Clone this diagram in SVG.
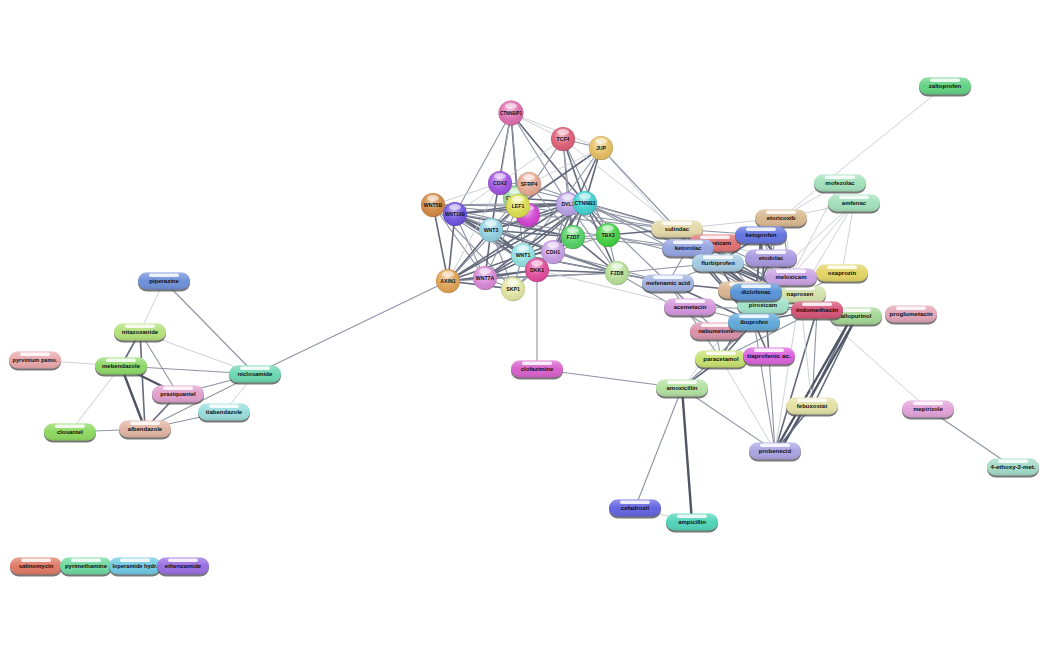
<svg xmlns="http://www.w3.org/2000/svg" xmlns:xlink="http://www.w3.org/1999/xlink" width="1046" height="652" viewBox="0 0 1046 652">
<style>
text{font-family:"Liberation Sans",Arial,sans-serif;font-size:6px;font-weight:bold;fill:#111;text-anchor:middle}
.g text{font-size:5.2px}
line{stroke-linecap:round}
.a{stroke:#c0c4ce;stroke-width:.8}
.b{stroke:#8e94a4;stroke-width:1.1}
.c{stroke:#646a7c;stroke-width:1.6}
.d{stroke:#505566;stroke-width:2.4}
</style>
<defs>
<linearGradient id="pg" x1="0" y1="0" x2="0" y2="1">
<stop offset="0" stop-color="#fff" stop-opacity="0.3"/>
<stop offset="0.5" stop-color="#fff" stop-opacity="0"/>
<stop offset="1" stop-color="#000" stop-opacity="0.1"/>
</linearGradient>
<radialGradient id="rg" cx="0.45" cy="0.35" r="0.7">
<stop offset="0" stop-color="#fff" stop-opacity="0.6"/>
<stop offset="0.45" stop-color="#fff" stop-opacity="0.1"/>
<stop offset="0.85" stop-color="#000" stop-opacity="0.05"/>
<stop offset="1" stop-color="#000" stop-opacity="0.3"/>
</radialGradient>
<rect id="psh" x="-26" y="-6.5" width="52" height="17" rx="8.5" fill="#555" opacity="0.8"/>
<rect id="pgl" x="-26" y="-8.5" width="52" height="17" rx="8.5" fill="url(#pg)"/>
<rect id="phl" x="-15" y="-7.6" width="30" height="3.6" rx="1.8" fill="#fff" opacity="0.85"/>
<circle id="sgl" r="12" fill="url(#rg)" stroke="#000" stroke-opacity="0.15" stroke-width=".5"/>
<ellipse id="shl" cx="0" cy="-7" rx="6" ry="3" fill="#fff" opacity="0.55"/>
</defs>
<rect width="1046" height="652" fill="#fff"/>
<g id="edges">
<line class="a" x1="164" y1="281" x2="140" y2="332"/>
<line class="b" x1="164" y1="281" x2="255" y2="374"/>
<line class="c" x1="140" y1="332" x2="121" y2="366"/>
<line class="c" x1="140" y1="332" x2="145" y2="429"/>
<line class="b" x1="140" y1="332" x2="178" y2="394"/>
<line class="a" x1="140" y1="332" x2="255" y2="374"/>
<line class="a" x1="35" y1="360" x2="121" y2="366"/>
<line class="b" x1="121" y1="366" x2="255" y2="374"/>
<line class="d" x1="121" y1="366" x2="178" y2="394"/>
<line class="d" x1="121" y1="366" x2="145" y2="429"/>
<line class="a" x1="121" y1="366" x2="70" y2="432"/>
<line class="b" x1="178" y1="394" x2="255" y2="374"/>
<line class="c" x1="178" y1="394" x2="145" y2="429"/>
<line class="b" x1="145" y1="429" x2="255" y2="374"/>
<line class="b" x1="145" y1="429" x2="224" y2="412"/>
<line class="a" x1="224" y1="412" x2="255" y2="374"/>
<line class="b" x1="70" y1="432" x2="145" y2="429"/>
<line class="b" x1="255" y1="374" x2="448" y2="281"/>
<line class="a" x1="511" y1="113" x2="563" y2="139"/>
<line class="a" x1="511" y1="113" x2="601" y2="148"/>
<line class="c" x1="511" y1="113" x2="585" y2="203"/>
<line class="c" x1="511" y1="113" x2="518" y2="206"/>
<line class="c" x1="511" y1="113" x2="491" y2="230"/>
<line class="b" x1="511" y1="113" x2="568" y2="204"/>
<line class="b" x1="511" y1="113" x2="455" y2="214"/>
<line class="a" x1="511" y1="113" x2="500" y2="183"/>
<line class="b" x1="511" y1="113" x2="523" y2="255"/>
<line class="b" x1="563" y1="139" x2="601" y2="148"/>
<line class="c" x1="563" y1="139" x2="585" y2="203"/>
<line class="b" x1="563" y1="139" x2="518" y2="206"/>
<line class="a" x1="563" y1="139" x2="455" y2="214"/>
<line class="b" x1="563" y1="139" x2="568" y2="204"/>
<line class="b" x1="563" y1="139" x2="573" y2="237"/>
<line class="b" x1="563" y1="139" x2="608" y2="235"/>
<line class="c" x1="601" y1="148" x2="585" y2="203"/>
<line class="c" x1="601" y1="148" x2="553" y2="252"/>
<line class="c" x1="601" y1="148" x2="518" y2="206"/>
<line class="b" x1="601" y1="148" x2="523" y2="255"/>
<line class="a" x1="601" y1="148" x2="529" y2="184"/>
<line class="c" x1="433" y1="205" x2="455" y2="214"/>
<line class="c" x1="433" y1="205" x2="491" y2="230"/>
<line class="b" x1="433" y1="205" x2="518" y2="206"/>
<line class="b" x1="433" y1="205" x2="585" y2="203"/>
<line class="c" x1="433" y1="205" x2="448" y2="281"/>
<line class="b" x1="433" y1="205" x2="485" y2="278"/>
<line class="b" x1="433" y1="205" x2="537" y2="270"/>
<line class="b" x1="433" y1="205" x2="573" y2="237"/>
<line class="a" x1="433" y1="205" x2="500" y2="183"/>
<line class="b" x1="433" y1="205" x2="523" y2="255"/>
<line class="b" x1="433" y1="205" x2="513" y2="289"/>
<line class="c" x1="455" y1="214" x2="491" y2="230"/>
<line class="c" x1="455" y1="214" x2="585" y2="203"/>
<line class="c" x1="455" y1="214" x2="518" y2="206"/>
<line class="c" x1="455" y1="214" x2="448" y2="281"/>
<line class="b" x1="455" y1="214" x2="485" y2="278"/>
<line class="c" x1="455" y1="214" x2="537" y2="270"/>
<line class="c" x1="455" y1="214" x2="573" y2="237"/>
<line class="b" x1="455" y1="214" x2="617" y2="273"/>
<line class="c" x1="455" y1="214" x2="523" y2="255"/>
<line class="b" x1="455" y1="214" x2="553" y2="252"/>
<line class="c" x1="491" y1="230" x2="585" y2="203"/>
<line class="c" x1="491" y1="230" x2="518" y2="206"/>
<line class="c" x1="491" y1="230" x2="448" y2="281"/>
<line class="c" x1="491" y1="230" x2="485" y2="278"/>
<line class="c" x1="491" y1="230" x2="537" y2="270"/>
<line class="c" x1="491" y1="230" x2="573" y2="237"/>
<line class="c" x1="491" y1="230" x2="617" y2="273"/>
<line class="c" x1="491" y1="230" x2="523" y2="255"/>
<line class="c" x1="491" y1="230" x2="568" y2="204"/>
<line class="b" x1="491" y1="230" x2="513" y2="289"/>
<line class="b" x1="491" y1="230" x2="529" y2="184"/>
<line class="c" x1="448" y1="281" x2="585" y2="203"/>
<line class="c" x1="448" y1="281" x2="485" y2="278"/>
<line class="c" x1="448" y1="281" x2="513" y2="289"/>
<line class="c" x1="448" y1="281" x2="537" y2="270"/>
<line class="b" x1="448" y1="281" x2="617" y2="273"/>
<line class="c" x1="448" y1="281" x2="523" y2="255"/>
<line class="b" x1="448" y1="281" x2="518" y2="206"/>
<line class="c" x1="448" y1="281" x2="568" y2="204"/>
<line class="a" x1="448" y1="281" x2="500" y2="183"/>
<line class="c" x1="485" y1="278" x2="523" y2="255"/>
<line class="c" x1="485" y1="278" x2="537" y2="270"/>
<line class="c" x1="485" y1="278" x2="573" y2="237"/>
<line class="b" x1="485" y1="278" x2="617" y2="273"/>
<line class="c" x1="485" y1="278" x2="585" y2="203"/>
<line class="b" x1="485" y1="278" x2="513" y2="289"/>
<line class="b" x1="485" y1="278" x2="518" y2="206"/>
<line class="c" x1="523" y1="255" x2="537" y2="270"/>
<line class="c" x1="523" y1="255" x2="573" y2="237"/>
<line class="c" x1="523" y1="255" x2="617" y2="273"/>
<line class="c" x1="523" y1="255" x2="585" y2="203"/>
<line class="c" x1="523" y1="255" x2="553" y2="252"/>
<line class="b" x1="523" y1="255" x2="513" y2="289"/>
<line class="c" x1="537" y1="270" x2="617" y2="273"/>
<line class="b" x1="537" y1="270" x2="553" y2="252"/>
<line class="c" x1="537" y1="270" x2="585" y2="203"/>
<line class="c" x1="537" y1="270" x2="573" y2="237"/>
<line class="c" x1="553" y1="252" x2="585" y2="203"/>
<line class="b" x1="553" y1="252" x2="617" y2="273"/>
<line class="b" x1="553" y1="252" x2="568" y2="204"/>
<line class="b" x1="553" y1="252" x2="573" y2="237"/>
<line class="b" x1="553" y1="252" x2="608" y2="235"/>
<line class="c" x1="573" y1="237" x2="585" y2="203"/>
<line class="c" x1="573" y1="237" x2="568" y2="204"/>
<line class="c" x1="573" y1="237" x2="617" y2="273"/>
<line class="b" x1="573" y1="237" x2="608" y2="235"/>
<line class="c" x1="608" y1="235" x2="585" y2="203"/>
<line class="b" x1="608" y1="235" x2="617" y2="273"/>
<line class="b" x1="608" y1="235" x2="568" y2="204"/>
<line class="c" x1="568" y1="204" x2="585" y2="203"/>
<line class="c" x1="568" y1="204" x2="518" y2="206"/>
<line class="b" x1="568" y1="204" x2="617" y2="273"/>
<line class="c" x1="585" y1="203" x2="518" y2="206"/>
<line class="c" x1="585" y1="203" x2="617" y2="273"/>
<line class="b" x1="585" y1="203" x2="529" y2="184"/>
<line class="b" x1="585" y1="203" x2="500" y2="183"/>
<line class="c" x1="585" y1="203" x2="515" y2="198"/>
<line class="b" x1="518" y1="206" x2="500" y2="183"/>
<line class="b" x1="518" y1="206" x2="529" y2="184"/>
<line class="b" x1="515" y1="198" x2="529" y2="184"/>
<line class="b" x1="500" y1="183" x2="529" y2="184"/>
<line class="b" x1="529" y1="184" x2="573" y2="237"/>
<line class="b" x1="529" y1="184" x2="523" y2="255"/>
<line class="b" x1="513" y1="289" x2="537" y2="270"/>
<line class="b" x1="513" y1="289" x2="553" y2="252"/>
<line class="b" x1="537" y1="270" x2="537" y2="369"/>
<line class="c" x1="585" y1="203" x2="677" y2="229"/>
<line class="b" x1="585" y1="203" x2="688" y2="248"/>
<line class="b" x1="585" y1="203" x2="718" y2="263"/>
<line class="b" x1="585" y1="203" x2="668" y2="283"/>
<line class="a" x1="585" y1="203" x2="771" y2="258"/>
<line class="b" x1="585" y1="203" x2="756" y2="292"/>
<line class="c" x1="608" y1="235" x2="677" y2="229"/>
<line class="b" x1="608" y1="235" x2="718" y2="263"/>
<line class="c" x1="617" y1="273" x2="668" y2="283"/>
<line class="b" x1="617" y1="273" x2="718" y2="263"/>
<line class="b" x1="617" y1="273" x2="716" y2="331"/>
<line class="b" x1="568" y1="204" x2="677" y2="229"/>
<line class="b" x1="573" y1="237" x2="688" y2="248"/>
<line class="b" x1="553" y1="252" x2="668" y2="283"/>
<line class="b" x1="433" y1="205" x2="677" y2="229"/>
<line class="b" x1="455" y1="214" x2="688" y2="248"/>
<line class="b" x1="518" y1="206" x2="677" y2="229"/>
<line class="b" x1="601" y1="148" x2="677" y2="229"/>
<line class="a" x1="601" y1="148" x2="688" y2="248"/>
<line class="a" x1="563" y1="139" x2="677" y2="229"/>
<line class="b" x1="523" y1="255" x2="668" y2="283"/>
<line class="a" x1="537" y1="270" x2="690" y2="307"/>
<line class="a" x1="945" y1="86" x2="781" y2="218"/>
<line class="a" x1="840" y1="183" x2="781" y2="218"/>
<line class="a" x1="840" y1="183" x2="791" y2="277"/>
<line class="a" x1="854" y1="203" x2="781" y2="218"/>
<line class="a" x1="854" y1="203" x2="791" y2="277"/>
<line class="a" x1="854" y1="203" x2="800" y2="294"/>
<line class="a" x1="854" y1="203" x2="756" y2="292"/>
<line class="a" x1="854" y1="203" x2="842" y2="273"/>
<line class="a" x1="781" y1="218" x2="677" y2="229"/>
<line class="b" x1="781" y1="218" x2="761" y2="235"/>
<line class="b" x1="781" y1="218" x2="771" y2="258"/>
<line class="b" x1="781" y1="218" x2="791" y2="277"/>
<line class="b" x1="781" y1="218" x2="756" y2="292"/>
<line class="a" x1="781" y1="218" x2="800" y2="294"/>
<line class="c" x1="677" y1="229" x2="688" y2="248"/>
<line class="b" x1="677" y1="229" x2="715" y2="243"/>
<line class="c" x1="677" y1="229" x2="718" y2="263"/>
<line class="c" x1="677" y1="229" x2="817" y2="310"/>
<line class="c" x1="677" y1="229" x2="756" y2="292"/>
<line class="c" x1="677" y1="229" x2="754" y2="322"/>
<line class="b" x1="677" y1="229" x2="800" y2="294"/>
<line class="b" x1="677" y1="229" x2="761" y2="235"/>
<line class="c" x1="688" y1="248" x2="718" y2="263"/>
<line class="c" x1="688" y1="248" x2="761" y2="235"/>
<line class="c" x1="688" y1="248" x2="756" y2="292"/>
<line class="c" x1="688" y1="248" x2="754" y2="322"/>
<line class="c" x1="688" y1="248" x2="800" y2="294"/>
<line class="b" x1="688" y1="248" x2="817" y2="310"/>
<line class="b" x1="688" y1="248" x2="668" y2="283"/>
<line class="b" x1="715" y1="243" x2="791" y2="277"/>
<line class="b" x1="715" y1="243" x2="763" y2="305"/>
<line class="b" x1="715" y1="243" x2="761" y2="235"/>
<line class="c" x1="761" y1="235" x2="718" y2="263"/>
<line class="c" x1="761" y1="235" x2="754" y2="322"/>
<line class="c" x1="761" y1="235" x2="800" y2="294"/>
<line class="c" x1="761" y1="235" x2="756" y2="292"/>
<line class="b" x1="761" y1="235" x2="771" y2="258"/>
<line class="c" x1="761" y1="235" x2="817" y2="310"/>
<line class="c" x1="761" y1="235" x2="769" y2="356"/>
<line class="b" x1="771" y1="258" x2="791" y2="277"/>
<line class="c" x1="771" y1="258" x2="756" y2="292"/>
<line class="b" x1="771" y1="258" x2="800" y2="294"/>
<line class="b" x1="771" y1="258" x2="754" y2="322"/>
<line class="c" x1="718" y1="263" x2="754" y2="322"/>
<line class="c" x1="718" y1="263" x2="756" y2="292"/>
<line class="c" x1="718" y1="263" x2="800" y2="294"/>
<line class="c" x1="718" y1="263" x2="817" y2="310"/>
<line class="b" x1="718" y1="263" x2="668" y2="283"/>
<line class="c" x1="668" y1="283" x2="756" y2="292"/>
<line class="c" x1="668" y1="283" x2="754" y2="322"/>
<line class="b" x1="668" y1="283" x2="690" y2="307"/>
<line class="b" x1="668" y1="283" x2="721" y2="359"/>
<line class="b" x1="668" y1="283" x2="716" y2="331"/>
<line class="c" x1="791" y1="277" x2="763" y2="305"/>
<line class="c" x1="791" y1="277" x2="756" y2="292"/>
<line class="b" x1="791" y1="277" x2="842" y2="273"/>
<line class="c" x1="791" y1="277" x2="800" y2="294"/>
<line class="b" x1="791" y1="277" x2="817" y2="310"/>
<line class="b" x1="842" y1="273" x2="800" y2="294"/>
<line class="b" x1="842" y1="273" x2="756" y2="292"/>
<line class="c" x1="800" y1="294" x2="754" y2="322"/>
<line class="c" x1="800" y1="294" x2="756" y2="292"/>
<line class="c" x1="800" y1="294" x2="817" y2="310"/>
<line class="d" x1="756" y1="292" x2="754" y2="322"/>
<line class="c" x1="756" y1="292" x2="817" y2="310"/>
<line class="c" x1="756" y1="292" x2="763" y2="305"/>
<line class="c" x1="756" y1="292" x2="721" y2="359"/>
<line class="c" x1="763" y1="305" x2="754" y2="322"/>
<line class="c" x1="763" y1="305" x2="817" y2="310"/>
<line class="b" x1="690" y1="307" x2="817" y2="310"/>
<line class="b" x1="690" y1="307" x2="754" y2="322"/>
<line class="b" x1="817" y1="310" x2="856" y2="316"/>
<line class="c" x1="817" y1="310" x2="775" y2="451"/>
<line class="a" x1="817" y1="310" x2="928" y2="409"/>
<line class="c" x1="817" y1="310" x2="754" y2="322"/>
<line class="b" x1="817" y1="310" x2="721" y2="359"/>
<line class="b" x1="817" y1="310" x2="812" y2="406"/>
<line class="c" x1="851" y1="318" x2="808" y2="404"/>
<line class="c" x1="856" y1="318" x2="813" y2="406"/>
<line class="d" x1="850" y1="320" x2="776" y2="449"/>
<line class="d" x1="855" y1="320" x2="781" y2="449"/>
<line class="a" x1="856" y1="316" x2="800" y2="294"/>
<line class="c" x1="754" y1="322" x2="721" y2="359"/>
<line class="b" x1="754" y1="322" x2="716" y2="331"/>
<line class="c" x1="754" y1="322" x2="769" y2="356"/>
<line class="b" x1="716" y1="331" x2="721" y2="359"/>
<line class="c" x1="721" y1="359" x2="682" y2="388"/>
<line class="b" x1="754" y1="322" x2="682" y2="388"/>
<line class="a" x1="756" y1="292" x2="682" y2="388"/>
<line class="b" x1="721" y1="359" x2="769" y2="356"/>
<line class="b" x1="769" y1="356" x2="775" y2="451"/>
<line class="c" x1="812" y1="406" x2="775" y2="451"/>
<line class="b" x1="775" y1="451" x2="682" y2="388"/>
<line class="a" x1="775" y1="451" x2="800" y2="294"/>
<line class="b" x1="775" y1="451" x2="754" y2="322"/>
<line class="a" x1="775" y1="451" x2="721" y2="359"/>
<line class="a" x1="812" y1="406" x2="800" y2="294"/>
<line class="b" x1="682" y1="388" x2="537" y2="369"/>
<line class="b" x1="682" y1="388" x2="635" y2="508"/>
<line class="d" x1="682" y1="388" x2="692" y2="522"/>
<line class="a" x1="635" y1="508" x2="692" y2="522"/>
<line class="b" x1="928" y1="409" x2="1013" y2="467"/>
</g>
<g id="nodes">
<g id="n-piperazine" transform="translate(164,281)"><use href="#psh"/><rect x="-26" y="-8.5" width="52" height="17" rx="8.5" fill="#6f8fd8"/><use href="#pgl"/><use href="#phl"/><text y="2.2">piperazine</text></g>
<g id="n-nitazoxanide" transform="translate(140,332)"><use href="#psh"/><rect x="-26" y="-8.5" width="52" height="17" rx="8.5" fill="#b4e07a"/><use href="#pgl"/><use href="#phl"/><text y="2.2">nitazoxanide</text></g>
<g id="n-pyrvinium" transform="translate(35,360)"><use href="#psh"/><rect x="-26" y="-8.5" width="52" height="17" rx="8.5" fill="#e8a8aa"/><use href="#pgl"/><use href="#phl"/><text y="2.2" textLength="45" lengthAdjust="spacingAndGlyphs">pyrvinium pamo.</text></g>
<g id="n-mebendazole" transform="translate(121,366)"><use href="#psh"/><rect x="-26" y="-8.5" width="52" height="17" rx="8.5" fill="#8ed868"/><use href="#pgl"/><use href="#phl"/><text y="2.2">mebendazole</text></g>
<g id="n-niclosamide" transform="translate(255,374)"><use href="#psh"/><rect x="-26" y="-8.5" width="52" height="17" rx="8.5" fill="#6cd8b2"/><use href="#pgl"/><use href="#phl"/><text y="2.2">niclosamide</text></g>
<g id="n-praziquantel" transform="translate(178,394)"><use href="#psh"/><rect x="-26" y="-8.5" width="52" height="17" rx="8.5" fill="#e0a0cc"/><use href="#pgl"/><use href="#phl"/><text y="2.2">praziquantel</text></g>
<g id="n-tiabendazole" transform="translate(224,412)"><use href="#psh"/><rect x="-26" y="-8.5" width="52" height="17" rx="8.5" fill="#9adcdc"/><use href="#pgl"/><use href="#phl"/><text y="2.2">tiabendazole</text></g>
<g id="n-closantel" transform="translate(70,432)"><use href="#psh"/><rect x="-26" y="-8.5" width="52" height="17" rx="8.5" fill="#8ed860"/><use href="#pgl"/><use href="#phl"/><text y="2.2">closantel</text></g>
<g id="n-albendazole" transform="translate(145,429)"><use href="#psh"/><rect x="-26" y="-8.5" width="52" height="17" rx="8.5" fill="#e0b4a2"/><use href="#pgl"/><use href="#phl"/><text y="2.2">albendazole</text></g>
<g id="n-salinomycin" transform="translate(36,566)"><use href="#psh"/><rect x="-26" y="-8.5" width="52" height="17" rx="8.5" fill="#e07a66"/><use href="#pgl"/><use href="#phl"/><text y="2.2">salinomycin</text></g>
<g id="n-pyrimethamine" transform="translate(86,566)"><use href="#psh"/><rect x="-26" y="-8.5" width="52" height="17" rx="8.5" fill="#6ed8a0"/><use href="#pgl"/><use href="#phl"/><text y="2.2" textLength="42" lengthAdjust="spacingAndGlyphs">pyrimethamine</text></g>
<g id="n-loperamide" transform="translate(135,566)"><use href="#psh"/><rect x="-26" y="-8.5" width="52" height="17" rx="8.5" fill="#70c8e2"/><use href="#pgl"/><use href="#phl"/><text y="2.2" textLength="45" lengthAdjust="spacingAndGlyphs">loperamide hydr.</text></g>
<g id="n-ethenzamide" transform="translate(183,566)"><use href="#psh"/><rect x="-26" y="-8.5" width="52" height="17" rx="8.5" fill="#9a6ee2"/><use href="#pgl"/><use href="#phl"/><text y="2.2">ethenzamide</text></g>
<g id="n-zaltoprofen" transform="translate(945,86)"><use href="#psh"/><rect x="-26" y="-8.5" width="52" height="17" rx="8.5" fill="#62d282"/><use href="#pgl"/><use href="#phl"/><text y="2.2">zaltoprofen</text></g>
<g id="n-mofezolac" transform="translate(840,183)"><use href="#psh"/><rect x="-26" y="-8.5" width="52" height="17" rx="8.5" fill="#a2e0ba"/><use href="#pgl"/><use href="#phl"/><text y="2.2">mofezolac</text></g>
<g id="n-amfenac" transform="translate(854,203)"><use href="#psh"/><rect x="-26" y="-8.5" width="52" height="17" rx="8.5" fill="#a2e0ba"/><use href="#pgl"/><use href="#phl"/><text y="2.2">amfenac</text></g>
<g id="n-sulindac" transform="translate(677,229)"><use href="#psh"/><rect x="-26" y="-8.5" width="52" height="17" rx="8.5" fill="#e2d8a8"/><use href="#pgl"/><use href="#phl"/><text y="2.2">sulindac</text></g>
<g id="n-lornoxicam" transform="translate(715,243)"><use href="#psh"/><rect x="-26" y="-8.5" width="52" height="17" rx="8.5" fill="#e07272"/><use href="#pgl"/><use href="#phl"/><text y="2.2">lornoxicam</text></g>
<g id="n-ketorolac" transform="translate(688,248)"><use href="#psh"/><rect x="-26" y="-8.5" width="52" height="17" rx="8.5" fill="#94a4e0"/><use href="#pgl"/><use href="#phl"/><text y="2.2">ketorolac</text></g>
<g id="n-etoricoxib" transform="translate(781,218)"><use href="#psh"/><rect x="-26" y="-8.5" width="52" height="17" rx="8.5" fill="#d8b890"/><use href="#pgl"/><use href="#phl"/><text y="2.2">etoricoxib</text></g>
<g id="n-ketoprofen" transform="translate(761,235)"><use href="#psh"/><rect x="-26" y="-8.5" width="52" height="17" rx="8.5" fill="#6474e0"/><use href="#pgl"/><use href="#phl"/><text y="2.2">ketoprofen</text></g>
<g id="n-etodolac" transform="translate(771,258)"><use href="#psh"/><rect x="-26" y="-8.5" width="52" height="17" rx="8.5" fill="#a898e0"/><use href="#pgl"/><use href="#phl"/><text y="2.2">etodolac</text></g>
<g id="n-flurbiprofen" transform="translate(718,263)"><use href="#psh"/><rect x="-26" y="-8.5" width="52" height="17" rx="8.5" fill="#a4cae2"/><use href="#pgl"/><use href="#phl"/><text y="2.2">flurbiprofen</text></g>
<g id="n-mefenamic" transform="translate(668,283)"><use href="#psh"/><rect x="-26" y="-8.5" width="52" height="17" rx="8.5" fill="#a2b2e0"/><use href="#pgl"/><use href="#phl"/><text y="2.2" textLength="44" lengthAdjust="spacingAndGlyphs">mefenamic acid</text></g>
<g id="n-oxaprozin" transform="translate(842,273)"><use href="#psh"/><rect x="-26" y="-8.5" width="52" height="17" rx="8.5" fill="#e2d464"/><use href="#pgl"/><use href="#phl"/><text y="2.2">oxaprozin</text></g>
<g id="n-naproxen" transform="translate(800,294)"><use href="#psh"/><rect x="-26" y="-8.5" width="52" height="17" rx="8.5" fill="#d2e2aa"/><use href="#pgl"/><use href="#phl"/><text y="2.2">naproxen</text></g>
<g id="n-meloxicam" transform="translate(791,277)"><use href="#psh"/><rect x="-26" y="-8.5" width="52" height="17" rx="8.5" fill="#c8a2e2"/><use href="#pgl"/><use href="#phl"/><text y="2.2">meloxicam</text></g>
<g id="n-tan" transform="translate(744,290)"><use href="#psh"/><rect x="-26" y="-8.5" width="52" height="17" rx="8.5" fill="#dcb690"/><use href="#pgl"/><use href="#phl"/></g>
<g id="n-piroxicam" transform="translate(763,305)"><use href="#psh"/><rect x="-26" y="-8.5" width="52" height="17" rx="8.5" fill="#a2e2c8"/><use href="#pgl"/><use href="#phl"/><text y="2.2">piroxicam</text></g>
<g id="n-diclofenac" transform="translate(756,292)"><use href="#psh"/><rect x="-26" y="-8.5" width="52" height="17" rx="8.5" fill="#5a94d8"/><use href="#pgl"/><use href="#phl"/><text y="2.2">diclofenac</text></g>
<g id="n-acemetacin" transform="translate(690,307)"><use href="#psh"/><rect x="-26" y="-8.5" width="52" height="17" rx="8.5" fill="#d496dc"/><use href="#pgl"/><use href="#phl"/><text y="2.2">acemetacin</text></g>
<g id="n-allopurinol" transform="translate(856,316)"><use href="#psh"/><rect x="-26" y="-8.5" width="52" height="17" rx="8.5" fill="#a4d896"/><use href="#pgl"/><use href="#phl"/><text y="2.2">allopurinol</text></g>
<g id="n-indomethacin" transform="translate(817,310)"><use href="#psh"/><rect x="-26" y="-8.5" width="52" height="17" rx="8.5" fill="#d65478"/><use href="#pgl"/><use href="#phl"/><text y="2.2" textLength="42" lengthAdjust="spacingAndGlyphs">indomethacin</text></g>
<g id="n-proglumetacin" transform="translate(911,314)"><use href="#psh"/><rect x="-26" y="-8.5" width="52" height="17" rx="8.5" fill="#e2a4b4"/><use href="#pgl"/><use href="#phl"/><text y="2.2" textLength="43" lengthAdjust="spacingAndGlyphs">proglumetacin</text></g>
<g id="n-nabumetone" transform="translate(716,331)"><use href="#psh"/><rect x="-26" y="-8.5" width="52" height="17" rx="8.5" fill="#da92aa"/><use href="#pgl"/><use href="#phl"/><text y="2.2">nabumetone</text></g>
<g id="n-ibuprofen" transform="translate(754,322)"><use href="#psh"/><rect x="-26" y="-8.5" width="52" height="17" rx="8.5" fill="#62aada"/><use href="#pgl"/><use href="#phl"/><text y="2.2">ibuprofen</text></g>
<g id="n-paracetamol" transform="translate(721,359)"><use href="#psh"/><rect x="-26" y="-8.5" width="52" height="17" rx="8.5" fill="#c8e070"/><use href="#pgl"/><use href="#phl"/><text y="2.2">paracetamol</text></g>
<g id="n-tiaprofenic" transform="translate(769,356)"><use href="#psh"/><rect x="-26" y="-8.5" width="52" height="17" rx="8.5" fill="#da62dc"/><use href="#pgl"/><use href="#phl"/><text y="2.2" textLength="44" lengthAdjust="spacingAndGlyphs">tiaprofenic ac.</text></g>
<g id="n-amoxicillin" transform="translate(682,388)"><use href="#psh"/><rect x="-26" y="-8.5" width="52" height="17" rx="8.5" fill="#b2e0a0"/><use href="#pgl"/><use href="#phl"/><text y="2.2">amoxicillin</text></g>
<g id="n-clofazimine" transform="translate(537,369)"><use href="#psh"/><rect x="-26" y="-8.5" width="52" height="17" rx="8.5" fill="#d862cc"/><use href="#pgl"/><use href="#phl"/><text y="2.2">clofazimine</text></g>
<g id="n-febuxostat" transform="translate(812,406)"><use href="#psh"/><rect x="-26" y="-8.5" width="52" height="17" rx="8.5" fill="#e2e0a4"/><use href="#pgl"/><use href="#phl"/><text y="2.2">febuxostat</text></g>
<g id="n-mepirizole" transform="translate(928,409)"><use href="#psh"/><rect x="-26" y="-8.5" width="52" height="17" rx="8.5" fill="#e2a2d8"/><use href="#pgl"/><use href="#phl"/><text y="2.2">mepirizole</text></g>
<g id="n-probenecid" transform="translate(775,451)"><use href="#psh"/><rect x="-26" y="-8.5" width="52" height="17" rx="8.5" fill="#aaa4e2"/><use href="#pgl"/><use href="#phl"/><text y="2.2">probenecid</text></g>
<g id="n-ethoxy" transform="translate(1013,467)"><use href="#psh"/><rect x="-26" y="-8.5" width="52" height="17" rx="8.5" fill="#a2dac8"/><use href="#pgl"/><use href="#phl"/><text y="2.2" textLength="45" lengthAdjust="spacingAndGlyphs">4-ethoxy-2-met.</text></g>
<g id="n-cefadroxil" transform="translate(635,508)"><use href="#psh"/><rect x="-26" y="-8.5" width="52" height="17" rx="8.5" fill="#6464e0"/><use href="#pgl"/><use href="#phl"/><text y="2.2">cefadroxil</text></g>
<g id="n-ampicillin" transform="translate(692,522)"><use href="#psh"/><rect x="-26" y="-8.5" width="52" height="17" rx="8.5" fill="#52d4ba"/><use href="#pgl"/><use href="#phl"/><text y="2.2">ampicillin</text></g>
</g>
<g id="genes" class="g">
<g id="n-CTNNBIP1" transform="translate(511,113)"><circle r="12.5" fill="#e070b0"/><use href="#sgl" transform="scale(1.04)"/><use href="#shl"/><text y="2" textLength="22" lengthAdjust="spacingAndGlyphs">CTNNBIP1</text></g>
<g id="n-TCF4" transform="translate(563,139)"><circle r="12" fill="#e06078"/><use href="#sgl"/><use href="#shl"/><text y="2">TCF4</text></g>
<g id="n-JUP" transform="translate(601,148)"><circle r="12" fill="#e8c064"/><use href="#sgl"/><use href="#shl"/><text y="2">JUP</text></g>
<g id="n-CCND1" transform="translate(515,198)"><circle r="12" fill="#94d894"/><use href="#sgl"/><use href="#shl"/><text y="2">CCND1</text></g>
<g id="n-MAG" transform="translate(528,215)"><circle r="12" fill="#d444d4"/><use href="#sgl"/><use href="#shl"/></g>
<g id="n-CDX2" transform="translate(500,183)"><circle r="12" fill="#a254e2"/><use href="#sgl"/><use href="#shl"/><text y="2">CDX2</text></g>
<g id="n-SFRP4" transform="translate(529,184)"><circle r="12" fill="#e8aa92"/><use href="#sgl"/><use href="#shl"/><text y="2">SFRP4</text></g>
<g id="n-LEF1" transform="translate(518,206)"><circle r="12" fill="#dee050"/><use href="#sgl"/><use href="#shl"/><text y="2">LEF1</text></g>
<g id="n-DVL1" transform="translate(568,204)"><circle r="12" fill="#baa2e8"/><use href="#sgl"/><use href="#shl"/><text y="2">DVL1</text></g>
<g id="n-CTNNB1" transform="translate(585,203)"><circle r="12" fill="#44d2d2"/><use href="#sgl"/><use href="#shl"/><text y="2">CTNNB1</text></g>
<g id="n-WNT5B" transform="translate(433,205)"><circle r="12" fill="#d48a44"/><use href="#sgl"/><use href="#shl"/><text y="2">WNT5B</text></g>
<g id="n-WNT10B" transform="translate(455,214)"><circle r="12" fill="#7054e2"/><use href="#sgl"/><use href="#shl"/><text y="2" textLength="20" lengthAdjust="spacingAndGlyphs">WNT10B</text></g>
<g id="n-WNT3" transform="translate(491,230)"><circle r="12" fill="#94d2e2"/><use href="#sgl"/><use href="#shl"/><text y="2">WNT3</text></g>
<g id="n-FZD7" transform="translate(573,237)"><circle r="12" fill="#54d264"/><use href="#sgl"/><use href="#shl"/><text y="2">FZD7</text></g>
<g id="n-TBX3" transform="translate(608,235)"><circle r="12" fill="#44d244"/><use href="#sgl"/><use href="#shl"/><text y="2">TBX3</text></g>
<g id="n-CDH1" transform="translate(553,252)"><circle r="12" fill="#caa2e8"/><use href="#sgl"/><use href="#shl"/><text y="2">CDH1</text></g>
<g id="n-WNT1" transform="translate(523,255)"><circle r="12" fill="#94e2e2"/><use href="#sgl"/><use href="#shl"/><text y="2">WNT1</text></g>
<g id="n-DKK1" transform="translate(537,270)"><circle r="12" fill="#e24c9c"/><use href="#sgl"/><use href="#shl"/><text y="2">DKK1</text></g>
<g id="n-FZD8" transform="translate(617,273)"><circle r="12" fill="#bae29a"/><use href="#sgl"/><use href="#shl"/><text y="2">FZD8</text></g>
<g id="n-AXIN1" transform="translate(448,281)"><circle r="12" fill="#e2a454"/><use href="#sgl"/><use href="#shl"/><text y="2">AXIN1</text></g>
<g id="n-WNT7A" transform="translate(485,278)"><circle r="12" fill="#da8ad8"/><use href="#sgl"/><use href="#shl"/><text y="2">WNT7A</text></g>
<g id="n-SKP1" transform="translate(513,289)"><circle r="12" fill="#e2e8a4"/><use href="#sgl"/><use href="#shl"/><text y="2">SKP1</text></g>
</g>
</svg>
